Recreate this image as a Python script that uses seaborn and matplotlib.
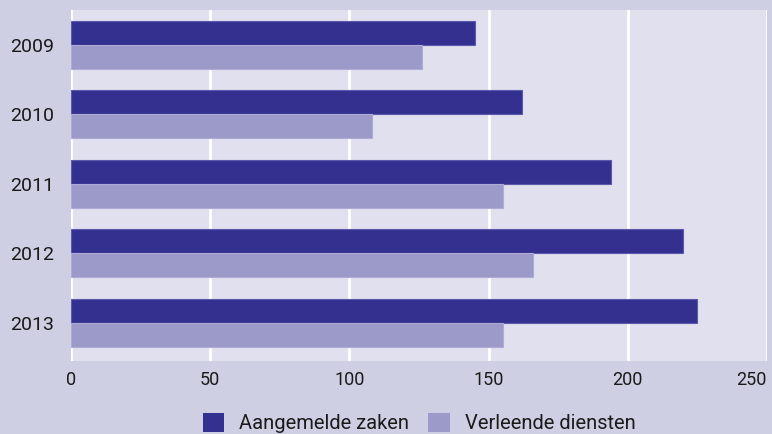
import matplotlib
matplotlib.use("Agg")
import matplotlib.pyplot as plt
import pandas as pd
import seaborn as sns
from matplotlib.patches import Patch

years = ["2009", "2010", "2011", "2012", "2013"]
series_names = ["Aangemelde zaken", "Verleende diensten"]
aangemelde_zaken = [145, 162, 194, 220, 225]
verleende_diensten = [126, 108, 155, 166, 155]
x_ticks = [0, 50, 100, 150, 200, 250]

colors = ["#34308f", "#9c9ac9"]
edge_colors = ["#5d5aae", "#aeacd6"]

df = pd.DataFrame(
    {
        "year": years * 2,
        "serie": [series_names[0]] * len(years) + [series_names[1]] * len(years),
        "value": aangemelde_zaken + verleende_diensten,
    }
)

sns.set_theme(style="white")
plt.rcParams["font.family"] = ["Roboto", "DejaVu Sans"]

fig = plt.figure(figsize=(7.72, 4.34), dpi=100, facecolor="#cfcfe4")
ax = fig.add_axes([0.092, 0.168, 0.9015, 0.809])
ax.set_facecolor("#e1e0ef")

sns.barplot(
    data=df,
    x="value",
    y="year",
    hue="serie",
    hue_order=series_names,
    palette=colors,
    orient="h",
    width=0.69,
    saturation=1,
    errorbar=None,
    legend=False,
    ax=ax,
)

# thin lighter edge around each bar, like the original
n = len(years)
for i, p in enumerate(ax.patches[: 2 * n]):
    p.set_edgecolor(edge_colors[i // n])
    p.set_linewidth(0.8)

ax.set_xlim(0, 250)
ax.set_ylim(4.55, -0.5)
ax.set_xticks(x_ticks)
ax.set_xticklabels([str(t) for t in x_ticks])
# last label sits inside the figure, right aligned on its tick
ax.get_xticklabels()[-1].set_horizontalalignment("right")
ax.xaxis.grid(True, color="white", linewidth=2)
ax.set_axisbelow(True)
for s in ax.spines.values():
    s.set_visible(False)

ax.tick_params(axis="x", length=0, pad=7, labelsize=13, labelcolor="#1a1a1a")
ax.tick_params(axis="y", length=0, pad=12, labelsize=14, labelcolor="#1a1a1a")
ax.set_xlabel("")
ax.set_ylabel("")

handles = [Patch(facecolor=c, edgecolor="none") for c in colors]
fig.legend(
    handles,
    series_names,
    loc="center",
    bbox_to_anchor=(0.543, 0.025),
    ncol=2,
    frameon=False,
    fontsize=14.5,
    handlelength=1.05,
    handleheight=1.05,
    handletextpad=0.75,
    columnspacing=0.95,
    labelcolor="#1a1a1a",
)

fig.savefig("out.png", dpi=100, facecolor=fig.get_facecolor())
